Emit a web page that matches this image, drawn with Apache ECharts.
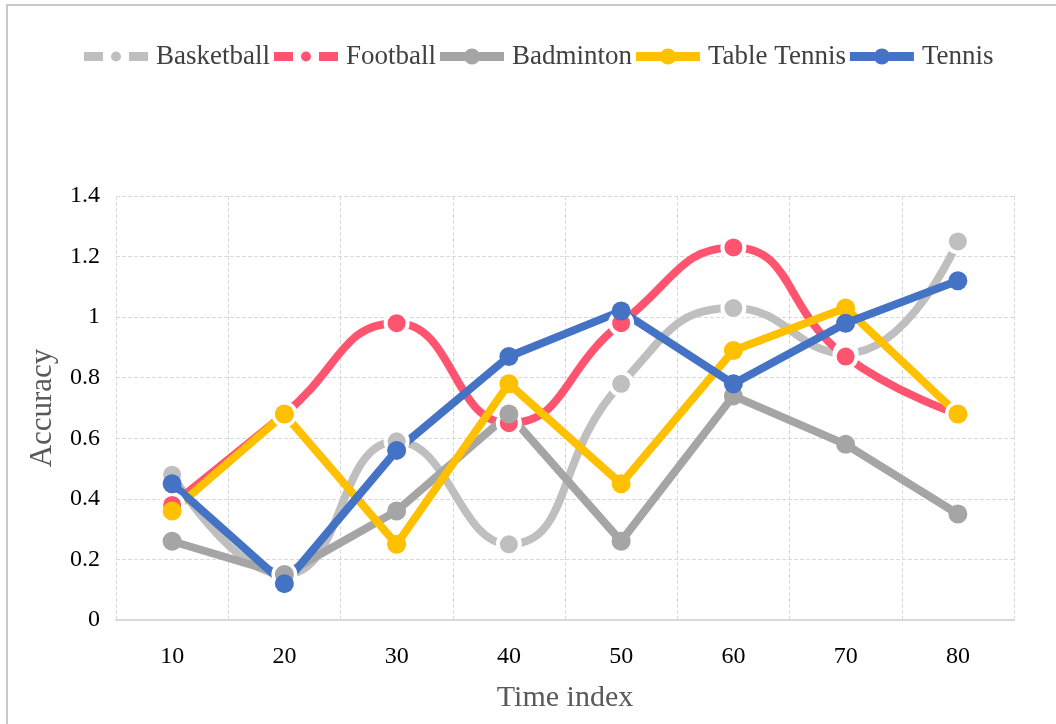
<!DOCTYPE html>
<html>
<head>
<meta charset="utf-8">
<script src="https://cdn.jsdelivr.net/npm/echarts@6/dist/echarts.min.js"></script>
<style>
html,body{margin:0;padding:0;background:#fff;overflow:hidden;}
#frame{position:absolute;left:6px;top:4px;width:1100px;height:760px;border:2px solid #c9c9c9;box-sizing:border-box;}
#chart{position:absolute;left:0;top:0;width:1056px;height:724px;}
</style>
</head>
<body>
<div id="frame"></div>
<div id="chart"></div>
<script>
const categories = ['10','20','30','40','50','60','70','80'];
const basketball = [0.48, 0.15, 0.59, 0.25, 0.78, 1.03, 0.88, 1.25];
const football   = [0.38, 0.68, 0.98, 0.65, 0.98, 1.23, 0.87, 0.68];
const badminton  = [0.26, 0.15, 0.36, 0.68, 0.26, 0.74, 0.58, 0.35];
const tableTennis= [0.36, 0.68, 0.25, 0.78, 0.45, 0.89, 1.03, 0.68];
const tennis     = [0.45, 0.12, 0.56, 0.87, 1.02, 0.78, 0.98, 1.12];
const yTicks = [0, 0.2, 0.4, 0.6, 0.8, 1, 1.2, 1.4];

const font = '"Liberation Serif", "Times New Roman", serif';
const chart = echarts.init(document.getElementById('chart'), null, {renderer:'canvas'});

// legend icons (64 x 18 box; tiny guide segments at top/bottom keep the box size)
const guide = 'M32 0L32.01 0L32.01 0.01Z M32 18L32.01 18L32.01 17.99Z ';
const iconSolid = 'path://' + guide + 'M0 4.5L25 4.5L25 13.5L0 13.5Z M39 4.5L64 4.5L64 13.5L39 13.5Z M24 9a8 8 0 1 1 16 0a8 8 0 1 1 -16 0Z';
const iconDash  = 'path://' + guide + 'M0 4.5L19 4.5L19 13.5L0 13.5Z M45 4.5L64 4.5L64 13.5L45 13.5Z M27 9a5 5 0 1 1 10 0a5 5 0 1 1 -10 0Z';

function mk(name, data, color, smooth, ring) {
  return {
    name, type:'line', data, smooth: smooth ? 0.5 : false,
    symbol:'circle', symbolSize: ring ? 22 : 19,
    lineStyle:{color, width:8},
    itemStyle:{color, borderColor: ring ? '#ffffff' : color, borderWidth: ring ? 4 : 0},
    emphasis:{disabled:true},
    animation:false
  };
}

chart.setOption({
  animation:false,
  legend:{
    top:38, left:79,
    itemWidth:64, itemHeight:18, itemGap:4,
    textStyle:{fontFamily:font, fontSize:27, color:'#404040', padding:[0,0,0,3]},
    data:[
      {name:'Basketball', icon:iconDash, itemStyle:{color:'#bfbfbf', borderWidth:0}},
      {name:'Football', icon:iconDash, itemStyle:{color:'#ff5470', borderWidth:0}},
      {name:'Badminton', icon:iconSolid, itemStyle:{color:'#a5a5a5', borderWidth:0}},
      {name:'Table Tennis', icon:iconSolid, itemStyle:{color:'#ffc000', borderWidth:0}},
      {name:'Tennis', icon:iconSolid, itemStyle:{color:'#4472c4', borderWidth:0}}
    ]
  },
  grid:{left:116, right:42, top:196, bottom:104, containLabel:false},
  xAxis:{
    type:'category', data:categories, boundaryGap:true,
    name:'Time index', nameLocation:'middle', nameGap:63,
    nameTextStyle:{fontFamily:font, fontSize:30, color:'#595959'},
    axisLine:{show:true, lineStyle:{color:'#d9d9d9', width:2}},
    axisTick:{show:false},
    axisLabel:{fontFamily:font, fontSize:24, color:'#000', margin:25},
    splitLine:{show:true, lineStyle:{color:'#d9d9d9', type:'dashed', width:1}}
  },
  yAxis:{
    type:'value', min:0, max:1.4, interval:0.2,
    name:'Accuracy', nameLocation:'middle', nameGap:58,
    nameTextStyle:{fontFamily:font, fontSize:31, color:'#595959'},
    axisLine:{show:false}, axisTick:{show:false},
    axisLabel:{fontFamily:font, fontSize:24, color:'#000', margin:16,
      formatter: v => { const t = yTicks.find(x => Math.abs(x - v) < 1e-9); return t === undefined ? '' : String(t); }},
    splitLine:{show:true, lineStyle:{color:'#d9d9d9', type:'dashed', width:1}}
  },
  series:[
    mk('Basketball', basketball, '#bfbfbf', true, true),
    mk('Football', football, '#ff5470', true, true),
    mk('Badminton', badminton, '#a5a5a5', false, false),
    mk('Table Tennis', tableTennis, '#ffc000', false, false),
    mk('Tennis', tennis, '#4472c4', false, false)
  ]
});
</script>
</body>
</html>
